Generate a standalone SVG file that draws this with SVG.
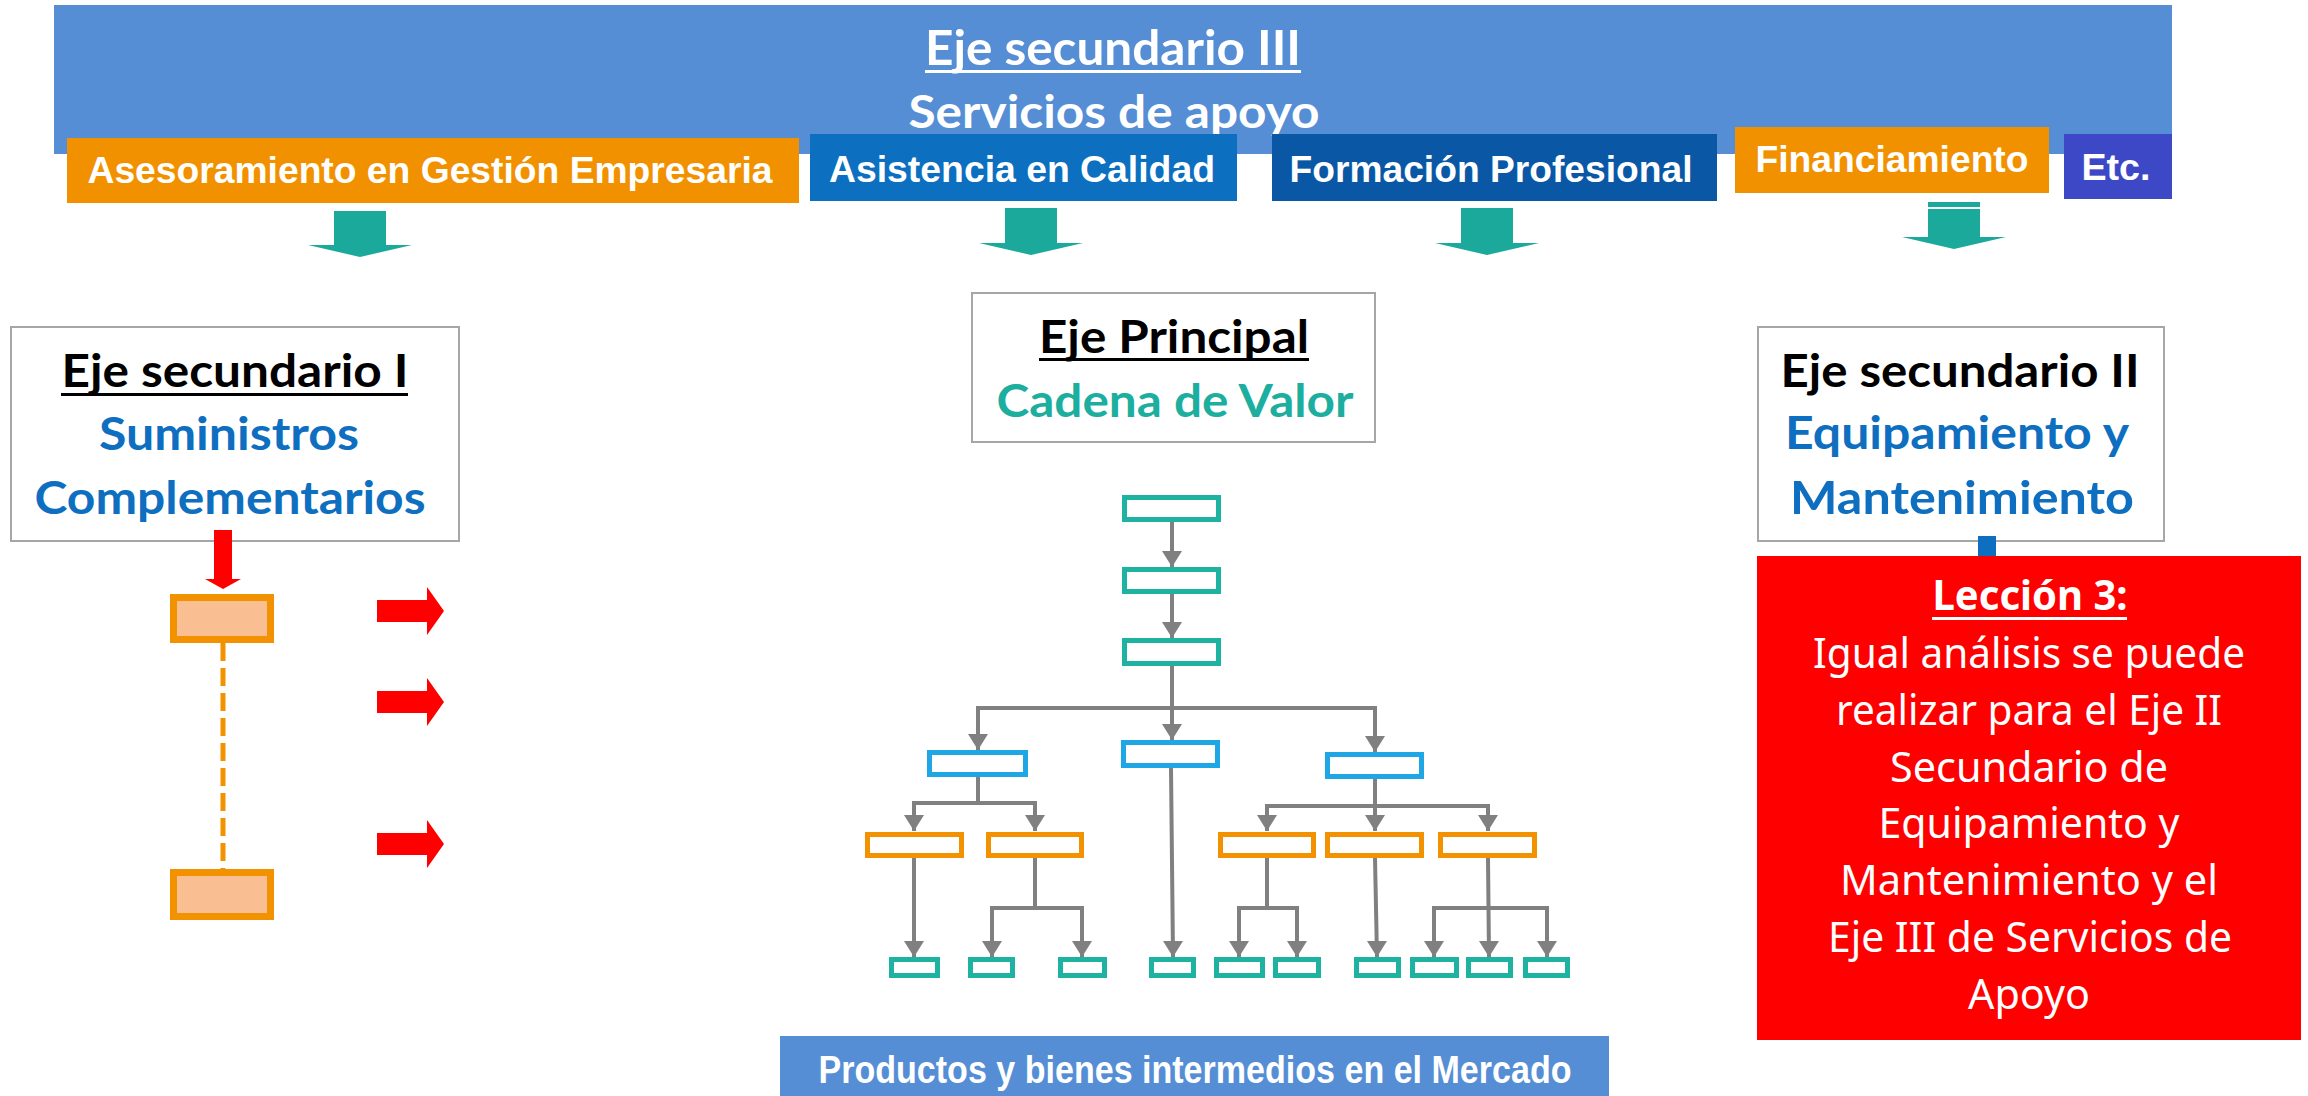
<svg xmlns="http://www.w3.org/2000/svg" width="2308" height="1096" viewBox="0 0 2308 1096">
<defs>
<style>
.wt{fill:#fff;font-family:"Liberation Sans",Arial,sans-serif;font-weight:bold;text-anchor:middle}
.hd{font-family:Lato,"Open Sans",sans-serif;font-weight:bold;text-anchor:middle}
.rt{fill:#fff;font-family:"Noto Sans","Open Sans",sans-serif;font-size:41px;text-anchor:middle}
.ebox{fill:#fff;stroke:#a6a6a6;stroke-width:2}
.tl{fill:#fff;stroke:#1db3a0;stroke-width:5}
.bl{fill:#fff;stroke:#1ea7e4;stroke-width:5}
.or{fill:#fff;stroke:#f39200;stroke-width:5}
.pk{fill:#f9bf93;stroke:#f39200;stroke-width:7}
.cn{fill:none;stroke:#808080;stroke-width:4}
.ar{marker-end:url(#ah)}
.teal{fill:#1aa99b}
.red{fill:#ff0000}
</style>
<marker id="ah" markerUnits="userSpaceOnUse" markerWidth="20" markerHeight="16" viewBox="0 0 20 16" refX="10" refY="16" orient="0">
<path d="M0,0 L20,0 L10,16 Z" fill="#808080"/>
</marker>
</defs>
<rect width="2308" height="1096" fill="#fff"/>

<g id="eje-secundario-iii">
<rect x="54" y="5" width="2118" height="149" fill="#558ed5"/>
<text class="hd" x="1113" y="65" font-size="48" fill="#fff" textLength="376" lengthAdjust="spacingAndGlyphs">Eje secundario III</text>
<rect x="925" y="70" width="376" height="3" fill="#fff"/>
<text class="hd" x="1114" y="128" font-size="46" fill="#fff" textLength="411" lengthAdjust="spacingAndGlyphs">Servicios de apoyo</text>
</g>

<g id="asesoramiento">
<rect x="67" y="138" width="732" height="65" fill="#f29100"/>
<text class="wt" x="430" y="183" font-size="36" textLength="685" lengthAdjust="spacingAndGlyphs">Asesoramiento en Gestión Empresaria</text>
</g>
<g id="asistencia">
<rect x="810" y="134" width="427" height="67" fill="#0c6fc0"/>
<text class="wt" x="1022" y="182" font-size="36" textLength="386" lengthAdjust="spacingAndGlyphs">Asistencia en Calidad</text>
</g>
<g id="formacion">
<rect x="1272" y="134" width="445" height="67" fill="#0a58a5"/>
<text class="wt" x="1491" y="182" font-size="36" textLength="403" lengthAdjust="spacingAndGlyphs">Formación Profesional</text>
</g>
<g id="financiamiento">
<rect x="1735" y="127" width="314" height="66" fill="#f29100"/>
<text class="wt" x="1892" y="172" font-size="36" textLength="273" lengthAdjust="spacingAndGlyphs">Financiamiento</text>
</g>
<g id="etc">
<rect x="2064" y="134" width="108" height="65" fill="#3d48c6"/>
<text class="wt" x="2116" y="180" font-size="36" textLength="69" lengthAdjust="spacingAndGlyphs">Etc.</text>
</g>

<g id="teal-arrows">
<polygon class="teal" points="334,211 386,211 386,245 412,245 360,257 308,245 334,245"/>
<polygon class="teal" points="1005,208 1057,208 1057,243 1083,243 1031,255 979,243 1005,243"/>
<polygon class="teal" points="1461,208 1513,208 1513,243 1539,243 1487,255 1435,243 1461,243"/>
<polygon class="teal" points="1928,202 1980,202 1980,237 2006,237 1954,249 1902,237 1928,237"/>
<rect x="1928" y="207" width="52" height="2" fill="#fff"/>
</g>

<g id="eje-secundario-i">
<rect class="ebox" x="11" y="327" width="448" height="214"/>
<text class="hd" x="235" y="387" font-size="46" fill="#000" textLength="347" lengthAdjust="spacingAndGlyphs">Eje secundario I</text>
<rect x="61" y="393" width="347" height="3" fill="#000"/>
<text class="hd" x="229" y="450" font-size="46" fill="#0e6ebf" textLength="260" lengthAdjust="spacingAndGlyphs">Suministros</text>
<text class="hd" x="230" y="514" font-size="46" fill="#0e6ebf" textLength="391" lengthAdjust="spacingAndGlyphs">Complementarios</text>
</g>

<g id="eje-principal">
<rect class="ebox" x="972" y="293" width="403" height="149"/>
<text class="hd" x="1174" y="353" font-size="46" fill="#000" textLength="270" lengthAdjust="spacingAndGlyphs">Eje Principal</text>
<rect x="1039" y="358" width="270" height="3" fill="#000"/>
<text class="hd" x="1175" y="417" font-size="46" fill="#1cae9e" textLength="357" lengthAdjust="spacingAndGlyphs">Cadena de Valor</text>
</g>

<g id="eje-secundario-ii">
<rect class="ebox" x="1758" y="327" width="406" height="214"/>
<text class="hd" x="1960" y="387" font-size="46" fill="#000" textLength="359" lengthAdjust="spacingAndGlyphs">Eje secundario II</text>
<text class="hd" x="1957" y="449" font-size="46" fill="#0e6ebf" textLength="344" lengthAdjust="spacingAndGlyphs">Equipamiento y</text>
<text class="hd" x="1962" y="514" font-size="46" fill="#0e6ebf" textLength="344" lengthAdjust="spacingAndGlyphs">Mantenimiento</text>
</g>

<g id="suministros-cadena">
<polygon class="red" points="214,530 232,530 232,579 241,579 223,589 205,579 214,579"/>
<rect class="pk" x="173.5" y="597.5" width="97" height="42"/>
<line x1="223" y1="643" x2="223" y2="869" stroke="#f39200" stroke-width="5" stroke-dasharray="18 7"/>
<rect class="pk" x="173.5" y="872.5" width="97" height="44"/>
<polygon class="red" points="377,600 427,600 427,587 444,611 427,635 427,622 377,622"/>
<polygon class="red" points="377,691 427,691 427,678 444,702 427,726 427,713 377,713"/>
<polygon class="red" points="377,833 427,833 427,820 444,844 427,868 427,855 377,855"/>
</g>

<g id="connectors">
<line class="cn ar" x1="1172" y1="522" x2="1172" y2="567"/>
<line class="cn ar" x1="1172" y1="594" x2="1172" y2="638"/>
<line class="cn ar" x1="1172" y1="666" x2="1172" y2="740"/>
<polyline class="cn" points="978,750 978,708 1375,708 1375,752"/>
<line class="cn ar" x1="978" y1="740" x2="978" y2="750"/>
<line class="cn ar" x1="1375" y1="740" x2="1375" y2="752"/>
<polyline class="cn" points="978,777 978,803"/>
<polyline class="cn" points="914,831 914,803 1035,803 1035,831"/>
<line class="cn ar" x1="914" y1="820" x2="914" y2="831"/>
<line class="cn ar" x1="1035" y1="820" x2="1035" y2="831"/>
<polyline class="cn" points="1375,779 1375,806"/>
<polyline class="cn" points="1267,831 1267,806 1488,806 1488,831"/>
<line class="cn ar" x1="1267" y1="820" x2="1267" y2="831"/>
<line class="cn ar" x1="1375" y1="806" x2="1375" y2="831"/>
<line class="cn ar" x1="1488" y1="820" x2="1488" y2="831"/>
<line class="cn ar" x1="1171" y1="768" x2="1173" y2="957"/>
<line class="cn ar" x1="914" y1="858" x2="914" y2="957"/>
<polyline class="cn" points="1035,858 1035,908"/>
<polyline class="cn" points="992,957 992,908 1082,908 1082,957"/>
<line class="cn ar" x1="992" y1="940" x2="992" y2="957"/>
<line class="cn ar" x1="1082" y1="940" x2="1082" y2="957"/>
<polyline class="cn" points="1267,858 1267,908"/>
<polyline class="cn" points="1239,957 1239,908 1297,908 1297,957"/>
<line class="cn ar" x1="1239" y1="940" x2="1239" y2="957"/>
<line class="cn ar" x1="1297" y1="940" x2="1297" y2="957"/>
<line class="cn ar" x1="1375" y1="858" x2="1377" y2="957"/>
<polyline class="cn" points="1434,957 1434,908 1547,908 1547,957"/>
<line class="cn ar" x1="1488" y1="858" x2="1489" y2="957"/>
<line class="cn ar" x1="1434" y1="940" x2="1434" y2="957"/>
<line class="cn ar" x1="1547" y1="940" x2="1547" y2="957"/>
</g>

<g id="cadena-nodos">
<rect class="tl" x="1124.5" y="497.5" width="94" height="22"/>
<rect class="tl" x="1124.5" y="569.5" width="94" height="22"/>
<rect class="tl" x="1124.5" y="640.5" width="94" height="23"/>
<rect class="bl" x="929.5" y="752.5" width="96" height="22"/>
<rect class="bl" x="1123.5" y="742.5" width="94" height="23"/>
<rect class="bl" x="1327.5" y="754.5" width="94" height="22"/>
<rect class="or" x="867.5" y="834.5" width="94" height="21"/>
<rect class="or" x="988.5" y="834.5" width="93" height="21"/>
<rect class="or" x="1220.5" y="834.5" width="93" height="21"/>
<rect class="or" x="1327.5" y="834.5" width="94" height="21"/>
<rect class="or" x="1440.5" y="834.5" width="94" height="21"/>
<rect class="tl" x="891.5" y="959.5" width="46" height="16"/>
<rect class="tl" x="970.5" y="959.5" width="42" height="16"/>
<rect class="tl" x="1060.5" y="959.5" width="44" height="16"/>
<rect class="tl" x="1151.5" y="959.5" width="42" height="16"/>
<rect class="tl" x="1216.5" y="959.5" width="46" height="16"/>
<rect class="tl" x="1275.5" y="959.5" width="43" height="16"/>
<rect class="tl" x="1356.5" y="959.5" width="42" height="16"/>
<rect class="tl" x="1412.5" y="959.5" width="44" height="16"/>
<rect class="tl" x="1468.5" y="959.5" width="42" height="16"/>
<rect class="tl" x="1525.5" y="959.5" width="42" height="16"/>
</g>

<g id="mercado">
<rect x="780" y="1036" width="829" height="60" fill="#558ed5"/>
<text class="wt" x="1195" y="1083" font-size="38" textLength="753" lengthAdjust="spacingAndGlyphs">Productos y bienes intermedios en el Mercado</text>
</g>

<g id="leccion-3">
<rect x="1978" y="536" width="18" height="22" fill="#0e6ebf"/>
<rect x="1757" y="556" width="544" height="484" fill="#ff0000"/>
<text class="rt" x="2030" y="610" font-weight="bold" textLength="195" lengthAdjust="spacingAndGlyphs">Lección 3:</text>
<rect x="1932" y="617" width="195" height="3" fill="#fff"/>
<text class="rt" x="2029" y="668" textLength="432" lengthAdjust="spacingAndGlyphs">Igual análisis se puede</text>
<text class="rt" x="2029" y="725" textLength="386" lengthAdjust="spacingAndGlyphs">realizar para el Eje II</text>
<text class="rt" x="2029" y="782" textLength="278" lengthAdjust="spacingAndGlyphs">Secundario de</text>
<text class="rt" x="2029" y="838" textLength="301" lengthAdjust="spacingAndGlyphs">Equipamiento y</text>
<text class="rt" x="2029" y="895" textLength="378" lengthAdjust="spacingAndGlyphs">Mantenimiento y el</text>
<text class="rt" x="2030" y="952" textLength="404" lengthAdjust="spacingAndGlyphs">Eje III de Servicios de</text>
<text class="rt" x="2029" y="1009" textLength="122" lengthAdjust="spacingAndGlyphs">Apoyo</text>
</g>
</svg>
